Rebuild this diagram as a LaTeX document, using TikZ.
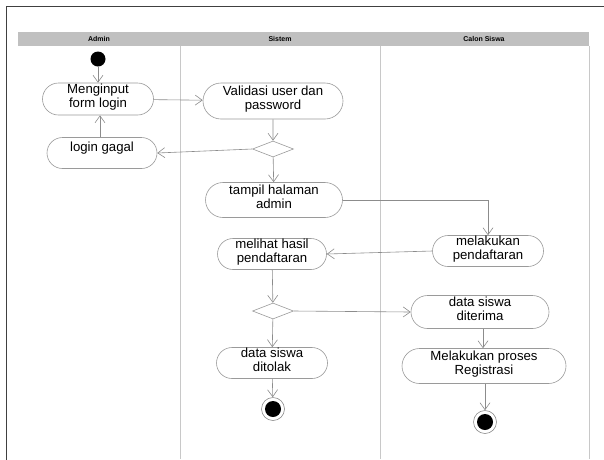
\documentclass[tikz,border=0pt]{standalone}
\usepackage{fontspec}
\setmainfont{Liberation Sans}
\usetikzlibrary{shapes.misc,shapes.geometric,arrows.meta}
\definecolor{framegray}{HTML}{404040}
\definecolor{headgray}{HTML}{C0C0C0}
\definecolor{lanegray}{HTML}{C8C8C8}
\definecolor{nodegray}{HTML}{9A9A9A}
\definecolor{linegray}{HTML}{8C8C8C}
\tikzset{
  act/.style={rounded rectangle, draw=nodegray, fill=white, line width=0.6pt,
    inner sep=0pt, align=center, text depth=7pt, font=\fontsize{13.2}{13.8}\selectfont},
  decision/.style={diamond, draw=nodegray, fill=white, line width=0.6pt,
    inner sep=0pt, minimum width=41pt, minimum height=16pt},
  flow/.style={draw=linegray, line width=0.6pt, -{Straight Barb[length=7pt,width=10pt]}},
  headtext/.style={font=\bfseries\fontsize{7}{7.5}\selectfont, inner sep=0pt},
  startdot/.style={circle, fill=black, minimum size=15pt, inner sep=0pt},
  endring/.style={circle, draw=linegray, fill=white, line width=0.6pt, minimum size=23pt, inner sep=0pt},
  enddot/.style={circle, fill=black, minimum size=16pt, inner sep=0pt},
}
\begin{document}
\begin{tikzpicture}[x=1pt,y=-1pt]
\useasboundingbox (0,0) rectangle (604,459);
\fill[white] (0,0) rectangle (604,459);
% frame
\draw[framegray, line width=1.5pt] (6.5,470) -- (6.5,6.5) -- (610,6.5);
% header
\fill[headgray] (18,32) rectangle (589,46);
\node[headtext] (hadmin) at (99,39) {Admin};
\node[headtext] (hsistem) at (280,39) {Sistem};
\node[headtext] (hcalon) at (484,39) {Calon Siswa};
% lanes
\draw[lanegray, line width=0.8pt] (180,46) -- (180,459);
\draw[lanegray, line width=0.8pt] (380,46) -- (380,459);
\draw[lanegray, line width=0.8pt] (589,46) -- (589,459);
% nodes
\node[startdot] (start) at (98,59) {};
\node[act, minimum width=111pt, minimum height=32pt] (input) at (98,99) {Menginput\\form login};
\node[act, minimum width=110pt, minimum height=31pt, text depth=13pt] (gagal) at (102,153) {login gagal};
\node[act, minimum width=140pt, minimum height=36pt] (valid) at (273,101) {Validasi user dan\\password};
\node[decision] (d1) at (273,149) {};
\node[act, minimum width=137pt, minimum height=35pt] (tampil) at (274,200) {tampil halaman\\admin};
\node[act, minimum width=111pt, minimum height=31pt] (daftar) at (488,251) {melakukan\\pendaftaran};
\node[act, minimum width=109pt, minimum height=31pt] (lihat) at (272,254) {melihat hasil\\pendaftaran};
\node[decision] (d2) at (273,311) {};
\node[act, minimum width=111pt, minimum height=31pt] (tolak) at (272,363) {data siswa\\ditolak};
\node[endring] (end1) at (273,409) {};
\node[enddot] (end1dot) at (end1) {};
\node[act, minimum width=138pt, minimum height=33pt] (terima) at (480,312) {data siswa\\diterima};
\node[act, minimum width=164pt, minimum height=35pt] (regis) at (484,366) {Melakukan proses\\Registrasi};
\node[endring] (end2) at (485,422) {};
\node[enddot] (end2dot) at (end2) {};
% connectors
\draw[flow] (start) -- (input);
\draw[flow] (input) -- (valid);
\draw[flow] (valid) -- (d1);
\draw[flow] (d1.west) -- (gagal.east);
\draw[flow] (gagal.north -| 100,0) -- (input.south -| 100,0);
\draw[flow] (d1) -- (tampil);
\draw[flow] (tampil.east) -| (daftar.north);
\draw[flow] (daftar.west) -- (lihat.east);
\draw[flow] (lihat) -- (d2);
\draw[flow] (d2.east) -- (terima.west);
\draw[flow] (d2) -- (tolak);
\draw[flow] (tolak) -- (end1);
\draw[flow] (terima.south -| 483,0) -- (regis.north -| 483,0);
\draw[flow] (regis.south -| 485,0) -- (end2);
\end{tikzpicture}
\end{document}
